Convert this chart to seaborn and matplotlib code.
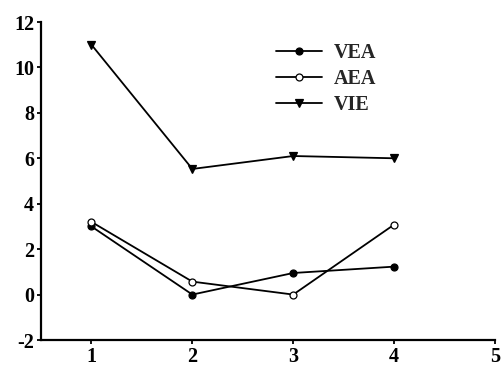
import matplotlib
matplotlib.use("Agg")
import matplotlib.pyplot as plt
import seaborn as sns
import pandas as pd

# Series values per session
sessions = [1, 2, 3, 4]
vea = [3.0, 0.0, 0.95, 1.23]
aea = [3.2, 0.57, 0.0, 3.08]
vie = [11.0, 5.53, 6.1, 6.0]

series_names = ["VEA", "AEA", "VIE"]
y_ticks = [-2, 0, 2, 4, 6, 8, 10, 12]
x_ticks = [1, 2, 3, 4, 5]

sns.set_theme(style="ticks")
plt.rcParams["font.family"] = ["Liberation Serif", "DejaVu Serif"]
plt.rcParams["font.weight"] = "bold"
plt.rcParams["axes.unicode_minus"] = False

df = pd.DataFrame({
    "session": sessions * 3,
    "value": vea + aea + vie,
    "group": [n for n in series_names for _ in sessions],
})

fig = plt.figure(figsize=(5.01, 3.66), dpi=100)
ax = fig.add_axes([41 / 501, 1 - 340 / 366, (495 - 41) / 501, (340 - 22) / 366])

styles = {
    "VEA": dict(marker="o", markerfacecolor="black", markersize=5),
    "AEA": dict(marker="o", markerfacecolor="white", markersize=5),
    "VIE": dict(marker="v", markerfacecolor="black", markersize=5.5),
}
for name in series_names:
    sub = df[df["group"] == name]
    sns.lineplot(data=sub, x="session", y="value", ax=ax, color="black",
                 linewidth=1.3, markeredgecolor="black", markeredgewidth=0.9,
                 label=name, **styles[name])

ax.set_xlim(0.5, 5)
ax.set_ylim(-2, 12)
ax.set_xticks(x_ticks)
ax.set_yticks(y_ticks)
ax.set_xlabel("")
ax.set_ylabel("")
sns.despine(ax=ax)
for side in ("left", "bottom"):
    ax.spines[side].set_linewidth(1.6)
    ax.spines[side].set_color("black")
ax.tick_params(axis="both", direction="out", length=3, width=1.3, colors="black",
               labelsize=14.5, pad=2)
for lbl in ax.get_xticklabels() + ax.get_yticklabels():
    lbl.set_fontweight("bold")

leg = ax.legend(loc="upper left", bbox_to_anchor=(266 / 501, 1 - 33 / 366),
                bbox_transform=fig.transFigure, frameon=False, borderpad=0,
                handlelength=2.3, handletextpad=0.55, labelspacing=0.3,
                prop={"weight": "bold", "size": 14.5})

fig.savefig("out.png", dpi=100)
